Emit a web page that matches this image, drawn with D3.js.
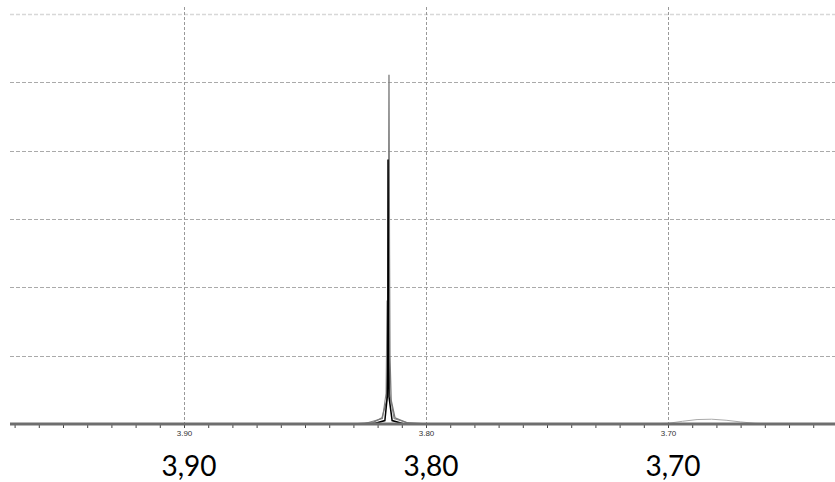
<!DOCTYPE html>
<html>
<head>
<meta charset="utf-8">
<script src="https://cdn.jsdelivr.net/npm/d3@7"></script>
<style>
html,body{margin:0;padding:0;background:#fff;}
svg{display:block;}
</style>
</head>
<body>
<svg id="chart" width="835" height="482"></svg>
<script>
// ---- data ----
const majorTicks = [3.90, 3.80, 3.70];
const tickLabels = ["3.90", "3.80", "3.70"];
const bigLabels = ["3,90", "3,80", "3,70"];
const gridLevels = [1, 2, 3, 4, 5, 6];

// spectrum traces: [ppm, intensity]
const traceTall = [[3.9719,0],[3.830,0],[3.822,0.02],[3.8182,0.09],[3.8162,0.35],[3.8157,1.0],[3.8155,2.6],[3.8153,5.11],[3.8151,2.6],[3.8149,1.0],[3.8144,0.35],[3.8128,0.09],[3.808,0.02],[3.800,0],[3.631,0]];
const traceBlack = [[3.9719,0],[3.822,0],[3.8170,0.05],[3.8160,0.4],[3.8158,1.0],[3.8157,3.87],[3.8155,1.0],[3.8153,0.4],[3.8140,0.05],[3.809,0],[3.631,0]];
const traceMid = [[3.9719,0],[3.826,0],[3.8180,0.08],[3.8165,0.45],[3.8161,1.8],[3.8156,1.8],[3.8150,0.45],[3.8132,0.08],[3.806,0],[3.631,0]];
const traceBump = [[3.712,0],[3.700,0.01],[3.694,0.04],[3.688,0.065],[3.682,0.07],[3.676,0.055],[3.670,0.03],[3.664,0.01],[3.655,0]];

// ---- layout ----
const svg = d3.select("#chart");
const x = d3.scaleLinear().domain([3.9719, 3.631]).range([10, 835]);
const y = d3.scaleLinear().domain([0, 6]).range([424, 14]);

// horizontal gridlines
svg.append("g").selectAll("line").data(gridLevels).join("line")
  .attr("x1", 10).attr("x2", 835)
  .attr("y1", d => Math.round(y(d)) + 0.5).attr("y2", d => Math.round(y(d)) + 0.5)
  .attr("stroke", d => d === 6 ? "#d8d8d8" : "#aaa")
  .attr("stroke-width", d => d === 6 ? 1.5 : 1)
  .attr("stroke-dasharray", "4,2");

// vertical gridlines
svg.append("g").selectAll("line").data(majorTicks).join("line")
  .attr("x1", d => Math.round(x(d)) + 0.5).attr("x2", d => Math.round(x(d)) + 0.5)
  .attr("y1", 7).attr("y2", 424)
  .attr("stroke", "#999").attr("stroke-width", 1)
  .attr("stroke-dasharray", "3,2");

// axis ticks and labels
const axis = d3.axisBottom(x)
  .tickValues(d3.range(3.97, 3.629, -0.01).map(v => +v.toFixed(2)))
  .tickSize(4)
  .tickFormat(d => {
    const i = majorTicks.findIndex(m => Math.abs(m - d) < 1e-6);
    return i >= 0 ? tickLabels[i] : "";
  });
const gAxis = svg.append("g").attr("transform", "translate(0,424)").call(axis);
gAxis.select(".domain").remove();
gAxis.selectAll(".tick line").attr("stroke", "#444");
gAxis.selectAll(".tick text")
  .attr("y", 6).attr("dy", "0.71em")
  .attr("font-family", "Liberation Sans, Arial, sans-serif")
  .attr("font-size", 8).attr("fill", "#333");

// traces
const line = d3.line().x(d => x(d[0])).y(d => y(d[1]));
svg.append("path").datum(traceBump).attr("d", line)
  .attr("fill", "none").attr("stroke", "#aaa").attr("stroke-width", 1);
svg.append("path").datum(traceMid).attr("d", line)
  .attr("fill", "none").attr("stroke", "#858585").attr("stroke-width", 1.1);
svg.append("path").datum(traceTall).attr("d", line)
  .attr("fill", "none").attr("stroke", "#7a7a7a").attr("stroke-width", 1.3);
svg.append("path").datum(traceBlack).attr("d", line)
  .attr("fill", "none").attr("stroke", "#000").attr("stroke-width", 1.5);

// axis baseline drawn on top
svg.append("line")
  .attr("x1", 10).attr("x2", 835).attr("y1", 424).attr("y2", 424)
  .attr("stroke", "#6e6e6e").attr("stroke-width", 3);

// big labels
svg.append("g").selectAll("text").data(majorTicks).join("text")
  .attr("x", d => x(d) + 5).attr("y", 476)
  .attr("text-anchor", "middle")
  .attr("font-family", "Lato, 'Open Sans', sans-serif")
  .attr("font-size", 28).attr("fill", "#000")
  .text((d, i) => bigLabels[i]);
</script>
</body>
</html>
